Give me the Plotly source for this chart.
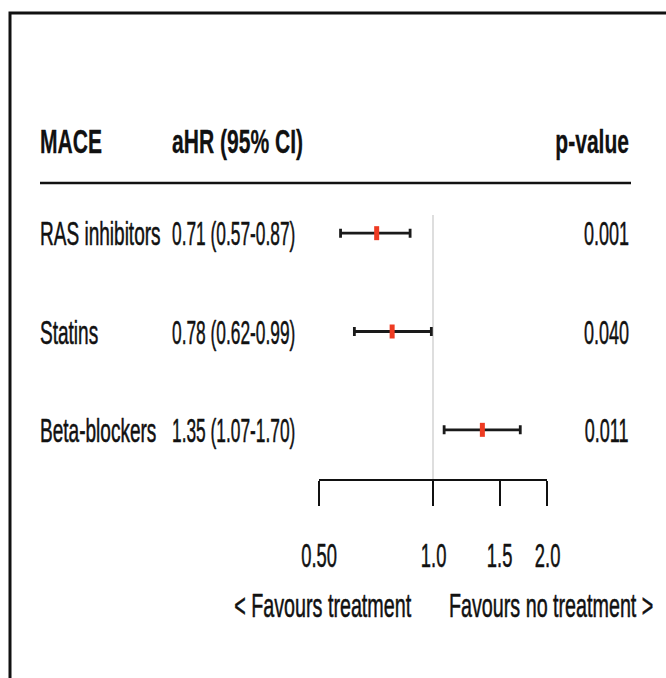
import json
import math
import plotly.graph_objects as go

# Forest plot data
categories = ["RAS inhibitors", "Statins", "Beta-blockers"]
hr = [0.71, 0.78, 1.35]
ci_low = [0.57, 0.62, 1.07]
ci_high = [0.87, 0.99, 1.70]
hr_text = ["0.71 (0.57-0.87)", "0.78 (0.62-0.99)", "1.35 (1.07-1.70)"]
p_values = ["0.001", "0.040", "0.011"]
tick_vals = [0.5, 1.0, 1.5, 2.0]
tick_text = ["0.50", "1.0", "1.5", "2.0"]
headers = ["MACE", "aHR (95% CI)", "p-value"]
direction_labels = ["< Favours treatment", "Favours no treatment >"]

W, H = 666, 678
FONT = "Liberation Sans, Arial, Helvetica, sans-serif"
TXT = "#111111"
FS = 34

# horizontal condensing applied to each text group (narrow-font look)
SQ_HEADER = 0.62
SQ_LABEL = 0.56
SQ_CI = 0.51
SQ_P = 0.53
SQ_TICK = 0.54
SQ_DIR = 0.58
# extra stroke that gives the condensed glyphs a little more weight
STROKE_REGULAR = 0.55
STROKE_BOLD = 0.3


def px(x):
    return x / W


def py(y):
    return 1 - y / H


rows = list(range(len(categories)))

fig = go.Figure()

fig.add_trace(go.Scatter(
    x=hr,
    y=rows,
    mode="markers",
    marker=dict(symbol="line-ns", size=10, color="#ee3b22",
                line=dict(width=5, color="#ee3b22")),
    error_x=dict(
        type="data",
        symmetric=False,
        array=[h - e for h, e in zip(ci_high, hr)],
        arrayminus=[e - l for e, l in zip(hr, ci_low)],
        color="#1a1a1a",
        thickness=2.8,
        width=4.5,
    ),
    cliponaxis=False,
    hoverinfo="skip",
    showlegend=False,
))

annotations = []
squeeze = []
strokes = []


def add_text(text, x, y, xref, yref, anchor, sq, bold=False):
    annotations.append(dict(
        text=text, x=x, y=y, xref=xref, yref=yref,
        xanchor=anchor, yanchor="middle", align=anchor, showarrow=False,
        font=dict(family=FONT, size=FS, color=TXT, weight="bold" if bold else "normal"),
    ))
    squeeze.append(sq)
    strokes.append(STROKE_BOLD if bold else STROKE_REGULAR)


# Column headers
header_y = py(141)
add_text(headers[0], px(38), header_y, "paper", "paper", "left", SQ_HEADER, bold=True)
add_text(headers[1], px(170), header_y, "paper", "paper", "left", SQ_HEADER, bold=True)
add_text(headers[2], px(631), header_y, "paper", "paper", "right", SQ_HEADER, bold=True)

# Row text columns
for r, name, ci, p in zip(rows, categories, hr_text, p_values):
    add_text(name, px(38), r, "paper", "y", "left", SQ_LABEL)
    add_text(ci, px(170), r, "paper", "y", "left", SQ_CI)
    add_text(p, px(631), r, "paper", "y", "right", SQ_P)

# Axis tick labels (log axis: annotation x is given in log10 units)
for v, t in zip(tick_vals, tick_text):
    add_text(t, math.log10(v), py(555), "x", "paper", "center", SQ_TICK)

# Direction labels under the axis
add_text(direction_labels[0], px(414), py(605), "paper", "paper", "right", SQ_DIR)
add_text(direction_labels[1], px(447), py(605), "paper", "paper", "left", SQ_DIR)

shapes = [
    # outer frame
    dict(type="rect", xref="paper", yref="paper", x0=px(10), x1=1.05, y0=-0.05, y1=py(13),
         line=dict(color="#111111", width=3), fillcolor="rgba(0,0,0,0)", layer="above"),
    # rule under the header
    dict(type="line", xref="paper", yref="paper", x0=px(40), x1=px(631), y0=py(183), y1=py(183),
         line=dict(color="#111111", width=2.5)),
    # line of no effect
    dict(type="line", xref="x", yref="paper", x0=1, x1=1, y0=py(479), y1=py(215),
         line=dict(color="#c8c8c8", width=1.2), layer="below"),
]

fig.update_layout(
    width=W, height=H,
    margin=dict(l=0, r=0, t=0, b=0, autoexpand=False),
    paper_bgcolor="white",
    plot_bgcolor="rgba(0,0,0,0)",
    font=dict(family=FONT, size=FS, color=TXT),
    annotations=annotations,
    shapes=shapes,
    showlegend=False,
    xaxis=dict(
        type="log",
        domain=[px(319), px(547)],
        range=[-0.30103, 0.30103],
        tickvals=tick_vals,
        ticktext=tick_text,
        showticklabels=False,
        ticks="outside",
        ticklen=25,
        tickwidth=1.8,
        tickcolor="#111111",
        showline=True,
        linecolor="#111111",
        linewidth=2.2,
        showgrid=False,
        zeroline=False,
        automargin=False,
        fixedrange=True,
    ),
    yaxis=dict(
        domain=[py(479), py(184)],
        range=[2.5, -0.5],
        visible=False,
        fixedrange=True,
    ),
)

# Condense the SVG annotation text horizontally about its anchor point
post_js = """
var gd = document.getElementById('{plot_id}');
var annSq = %s;
var annStroke = %s;
gd.querySelectorAll('g.annotation').forEach(function (g) {
  var i = parseInt(g.getAttribute('data-index'), 10);
  var t = g.querySelector('text.annotation-text');
  var s = annSq[i];
  if (!t || s === undefined) return;
  var ax = parseFloat(t.getAttribute('x')) || 0;
  t.setAttribute('transform',
    'translate(' + ax + ',0) scale(' + s + ',1) translate(' + (-ax) + ',0)');
  t.style.stroke = '%s';
  t.style.strokeWidth = annStroke[i] + 'px';
  t.style.strokeLinejoin = 'round';
});
""" % (json.dumps(squeeze), json.dumps(strokes), TXT)

fig.write_html("out.html", post_script=post_js)
